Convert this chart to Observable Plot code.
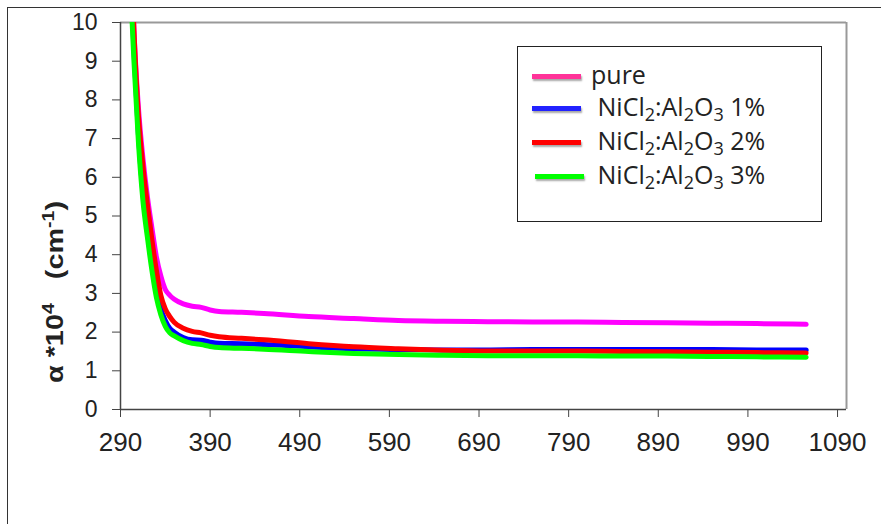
<!DOCTYPE html>
<html>
<head>
<meta charset="utf-8">
<script src="https://cdn.jsdelivr.net/npm/d3@7"></script>
<script src="https://cdn.jsdelivr.net/npm/@observablehq/plot@0.6"></script>
<style>
  html, body { margin: 0; padding: 0; background: #fff; }
  #wrap { position: relative; width: 881px; height: 524px; overflow: hidden; font-family: "Liberation Sans", Arial, sans-serif; }
  #frame { position: absolute; left: 7px; top: 7px; width: 900px; height: 540px; border-top: 1.5px solid #333; border-left: 1.5px solid #333; box-sizing: border-box; }
  #chart { position: absolute; left: 0; top: 0; }
  #ytitle { position: absolute; left: 55px; top: 292px; transform: translate(-50%, -50%) rotate(-90deg) scale(1.2, 1); white-space: pre; font: bold 24px "Liberation Sans", Arial, sans-serif; color: #222; }
  #ytitle sup { font-size: 0.68em; vertical-align: 0.55em; line-height: 0; }
  #legend { position: absolute; left: 517px; top: 46px; width: 305px; height: 176px; border: 1.5px solid #222; box-sizing: border-box; background: #fff; }
  .sw { position: absolute; left: 14px; width: 49px; height: 5px; box-shadow: 1px 2px 2px rgba(0,0,0,0.35); }
  .lab { position: absolute; white-space: pre; font: 25px "Open Sans", sans-serif; color: #222; line-height: 1; }
  .lab sub { font-size: 0.72em; vertical-align: -0.3em; line-height: 0; }
</style>
</head>
<body>
<div id="wrap">
  <div id="frame"></div>
  <div id="chart"></div>
  <div id="ytitle">α *10<sup>4</sup>   (cm<sup>-1</sup>)</div>
  <div id="legend"></div>
</div>
<script>
// Data (wavelength in nm, absorption coefficient α ×10^4 cm^-1)
const wavelength = [303, 305, 310, 315, 320, 325, 330, 335, 340, 345, 350, 360, 370, 380, 390, 400, 425, 450, 500, 550, 600, 650, 700, 750, 800, 850, 900, 950, 1000, 1055];
const pure = [11.0, 9.8, 7.8, 6.5, 5.5, 4.7, 3.95, 3.45, 3.1, 2.95, 2.85, 2.73, 2.67, 2.64, 2.57, 2.53, 2.51, 2.48, 2.40, 2.35, 2.30, 2.28, 2.27, 2.26, 2.26, 2.25, 2.24, 2.23, 2.22, 2.20];
const ni1 = [10.3, 9.3, 7.1, 5.6, 4.6, 3.75, 3.05, 2.6, 2.3, 2.1, 2.0, 1.86, 1.80, 1.79, 1.74, 1.71, 1.70, 1.68, 1.62, 1.57, 1.55, 1.54, 1.54, 1.55, 1.55, 1.55, 1.55, 1.55, 1.54, 1.54];
const ni2 = [11.0, 9.8, 7.6, 6.3, 5.3, 4.4, 3.6, 2.95, 2.6, 2.4, 2.25, 2.1, 2.02, 1.98, 1.92, 1.88, 1.84, 1.80, 1.70, 1.62, 1.57, 1.53, 1.51, 1.51, 1.51, 1.50, 1.49, 1.48, 1.47, 1.46];
const ni3 = [10.0, 9.0, 6.9, 5.4, 4.45, 3.6, 2.9, 2.45, 2.15, 1.98, 1.9, 1.78, 1.71, 1.68, 1.63, 1.60, 1.58, 1.56, 1.50, 1.45, 1.42, 1.40, 1.39, 1.39, 1.39, 1.38, 1.38, 1.37, 1.36, 1.35];

const seriesNames = ["pure", "NiCl2:Al2O3 1%", "NiCl2:Al2O3 2%", "NiCl2:Al2O3 3%"];
const seriesValues = [pure, ni1, ni2, ni3];
const lineColors = ["#ff00ff", "#0000ff", "#ff0000", "#00ff00"];
const swatchColors = ["#ff3399", "#2222ff", "#ff0000", "#00ff00"];
const legendHtml = ["pure", " NiCl<sub>2</sub>:Al<sub>2</sub>O<sub>3</sub> 1%", " NiCl<sub>2</sub>:Al<sub>2</sub>O<sub>3</sub> 2%", " NiCl<sub>2</sub>:Al<sub>2</sub>O<sub>3</sub> 3%"];

const xTicks = [290, 390, 490, 590, 690, 790, 890, 990, 1090];
const yTicks = [0, 1, 2, 3, 4, 5, 6, 7, 8, 9, 10];

const rows = seriesNames.map((name, i) => wavelength.map((x, j) => ({x, y: seriesValues[i][j], s: name})));

const plot = Plot.plot({
  width: 881,
  height: 524,
  marginLeft: 120,
  marginTop: 22,
  marginRight: 35,
  marginBottom: 115,
  style: {fontFamily: '"Liberation Sans", Arial, sans-serif', color: "#222", background: "transparent", overflow: "visible"},
  x: {domain: [290, 1100]},
  y: {domain: [0, 10]},
  color: {domain: seriesNames, range: lineColors},
  marks: [
    Plot.ruleY([10], {stroke: "#999", strokeWidth: 2}),
    Plot.ruleX([1100], {stroke: "#999", strokeWidth: 2}),
    ...rows.map(r => Plot.line(r, {x: "x", y: "y", stroke: "s", strokeWidth: 5, curve: "monotone-x", clip: true})),
    Plot.ruleX([290], {stroke: "#444", strokeWidth: 1.5}),
    Plot.ruleY([0], {stroke: "#444", strokeWidth: 1.5}),
    Plot.axisX({ticks: xTicks, tickSize: 8, tickPadding: 15, fontSize: 26, label: null, tickFormat: d => String(d), stroke: "#444"}),
    Plot.axisY({ticks: yTicks, tickSize: 8, tickPadding: 15, fontSize: 23, label: null, tickFormat: d => String(d), stroke: "#444"})
  ]
});
document.getElementById("chart").appendChild(plot);

// Legend
const legend = document.getElementById("legend");
const rowY = [30, 62, 96, 130];
const textX = [73, 73, 73, 73];
seriesNames.forEach((name, i) => {
  const sw = document.createElement("div");
  sw.className = "sw";
  sw.style.top = (rowY[i] - 3) + "px";
  sw.style.background = swatchColors[i];
  if (i === 3) sw.style.left = "17px";
  legend.appendChild(sw);
  const lab = document.createElement("div");
  lab.className = "lab";
  lab.style.left = textX[i] + "px";
  lab.style.top = (rowY[i] - 15) + "px";
  lab.innerHTML = legendHtml[i];
  legend.appendChild(lab);
});
</script>
</body>
</html>
